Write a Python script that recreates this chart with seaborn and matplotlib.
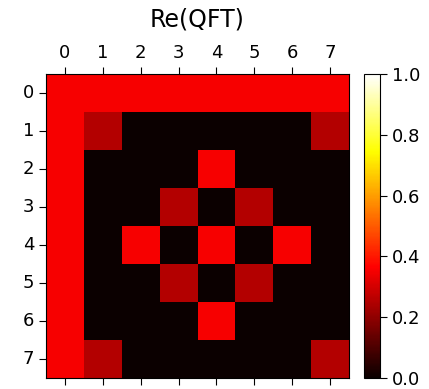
import numpy as np
import matplotlib
matplotlib.use("Agg")
import matplotlib.pyplot as plt
import seaborn as sns

# Real part of the 8x8 quantum Fourier transform matrix
a = 0.354  # 1/sqrt(8)
b = 0.25   # cos(pi/4)/sqrt(8)
re_qft = [
    [a,  a,  a,  a,  a,  a,  a,  a],
    [a,  b,  0, -b, -a, -b,  0,  b],
    [a,  0, -a,  0,  a,  0, -a,  0],
    [a, -b,  0,  b, -a,  b,  0, -b],
    [a, -a,  a, -a,  a, -a,  a, -a],
    [a, -b,  0,  b, -a,  b,  0, -b],
    [a,  0, -a,  0,  a,  0, -a,  0],
    [a,  b,  0, -b, -a, -b,  0,  b],
]
row_labels = [str(i) for i in range(8)]
col_labels = [str(i) for i in range(8)]
cbar_ticks = [0.0, 0.2, 0.4, 0.6, 0.8, 1.0]

sns.set_style("white")
plt.rcParams["font.family"] = ["DejaVu Sans"]
plt.rcParams.update({
    "text.color": "black",
    "axes.labelcolor": "black",
    "xtick.color": "black",
    "ytick.color": "black",
    "axes.edgecolor": "black",
})

fig = plt.figure(figsize=(4.29, 3.89), dpi=100)
ax = fig.add_axes([46 / 429, 1 - 378 / 389, 303 / 429, 304 / 389])
cax = fig.add_axes([364 / 429, 1 - 378 / 389, 16 / 429, 304 / 389])

sns.heatmap(np.array(re_qft), cmap="hot", vmin=0, vmax=1, ax=ax, cbar_ax=cax,
            xticklabels=col_labels, yticklabels=row_labels, square=False,
            cbar_kws={"ticks": cbar_ticks})

for side in ["top", "bottom", "left", "right"]:
    ax.spines[side].set_visible(True)
    ax.spines[side].set_color("black")
    ax.spines[side].set_linewidth(0.8)

ax.tick_params(axis="x", which="both", top=True, bottom=True,
               labeltop=True, labelbottom=False, length=5, width=0.8,
               labelsize=13, rotation=0, colors="black")
ax.tick_params(axis="y", length=5, width=0.8, labelsize=13, rotation=0,
               left=True, colors="black")
ax.set_title("Re(QFT)", fontsize=17, pad=13, color="black")

cbar = ax.collections[0].colorbar
cbar.outline.set_visible(True)
cbar.outline.set_edgecolor("black")
cbar.outline.set_linewidth(0.8)
cbar.ax.tick_params(labelsize=13, length=5, width=0.8, right=True,
                    colors="black")
cbar.ax.set_yticklabels([f"{t:.1f}" for t in cbar_ticks])

fig.savefig("out.png", dpi=100)
